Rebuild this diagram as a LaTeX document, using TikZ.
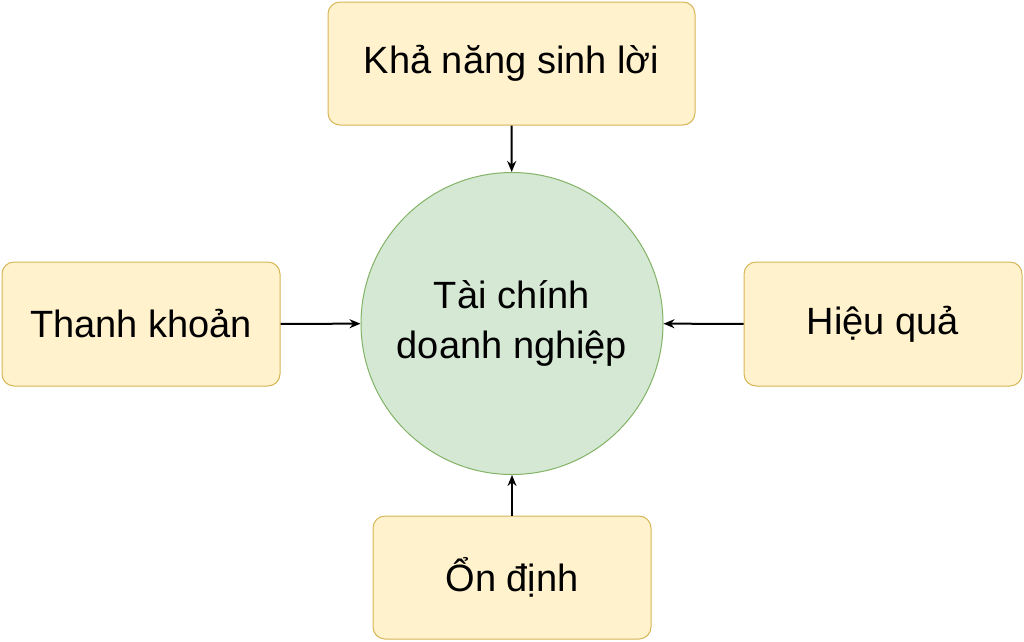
\documentclass[tikz,border=0pt]{standalone}
\usepackage{fontspec}
\setmainfont{Liberation Sans}
\usetikzlibrary{arrows.meta}
\definecolor{boxfill}{HTML}{FFF2CC}
\definecolor{boxline}{HTML}{D6B656}
\definecolor{cfill}{HTML}{D5E8D4}
\definecolor{cline}{HTML}{82B366}
\tikzset{
 fbox/.style={draw=boxline,fill=boxfill,rounded corners=12pt,line width=1pt,inner sep=0pt,font=\fontsize{38}{44}\selectfont},
 conn/.style={-{Stealth[length=11pt,width=9pt]},line width=2pt}
}
\begin{document}
\begin{tikzpicture}[x=1pt,y=-1pt]
\useasboundingbox (0,0) rectangle (1024,641);
\node[fbox,minimum width=367pt,minimum height=123pt] (top) at (511.5,63.5) {Khả năng sinh lời};
\node[fbox,minimum width=278pt,minimum height=124pt] (left) at (141,324) {Thanh khoản};
\node[fbox,minimum width=278pt,minimum height=124pt] (right) at (883,324) {Hiệu quả};
\node[fbox,minimum width=278pt,minimum height=123pt] (bot) at (512,577.5) {Ổn định};
\node[circle,draw=cline,fill=cfill,line width=1pt,minimum size=302pt,inner sep=0pt,align=center,font=\fontsize{38}{50}\selectfont] (c) at (512,323.5) {Tài chính\\doanh nghiệp};
\draw[conn] (top) -- (c);
\draw[conn] (left) -- (c);
\draw[conn] (right) -- (c);
\draw[conn] (bot) -- (c);
\end{tikzpicture}
\end{document}
